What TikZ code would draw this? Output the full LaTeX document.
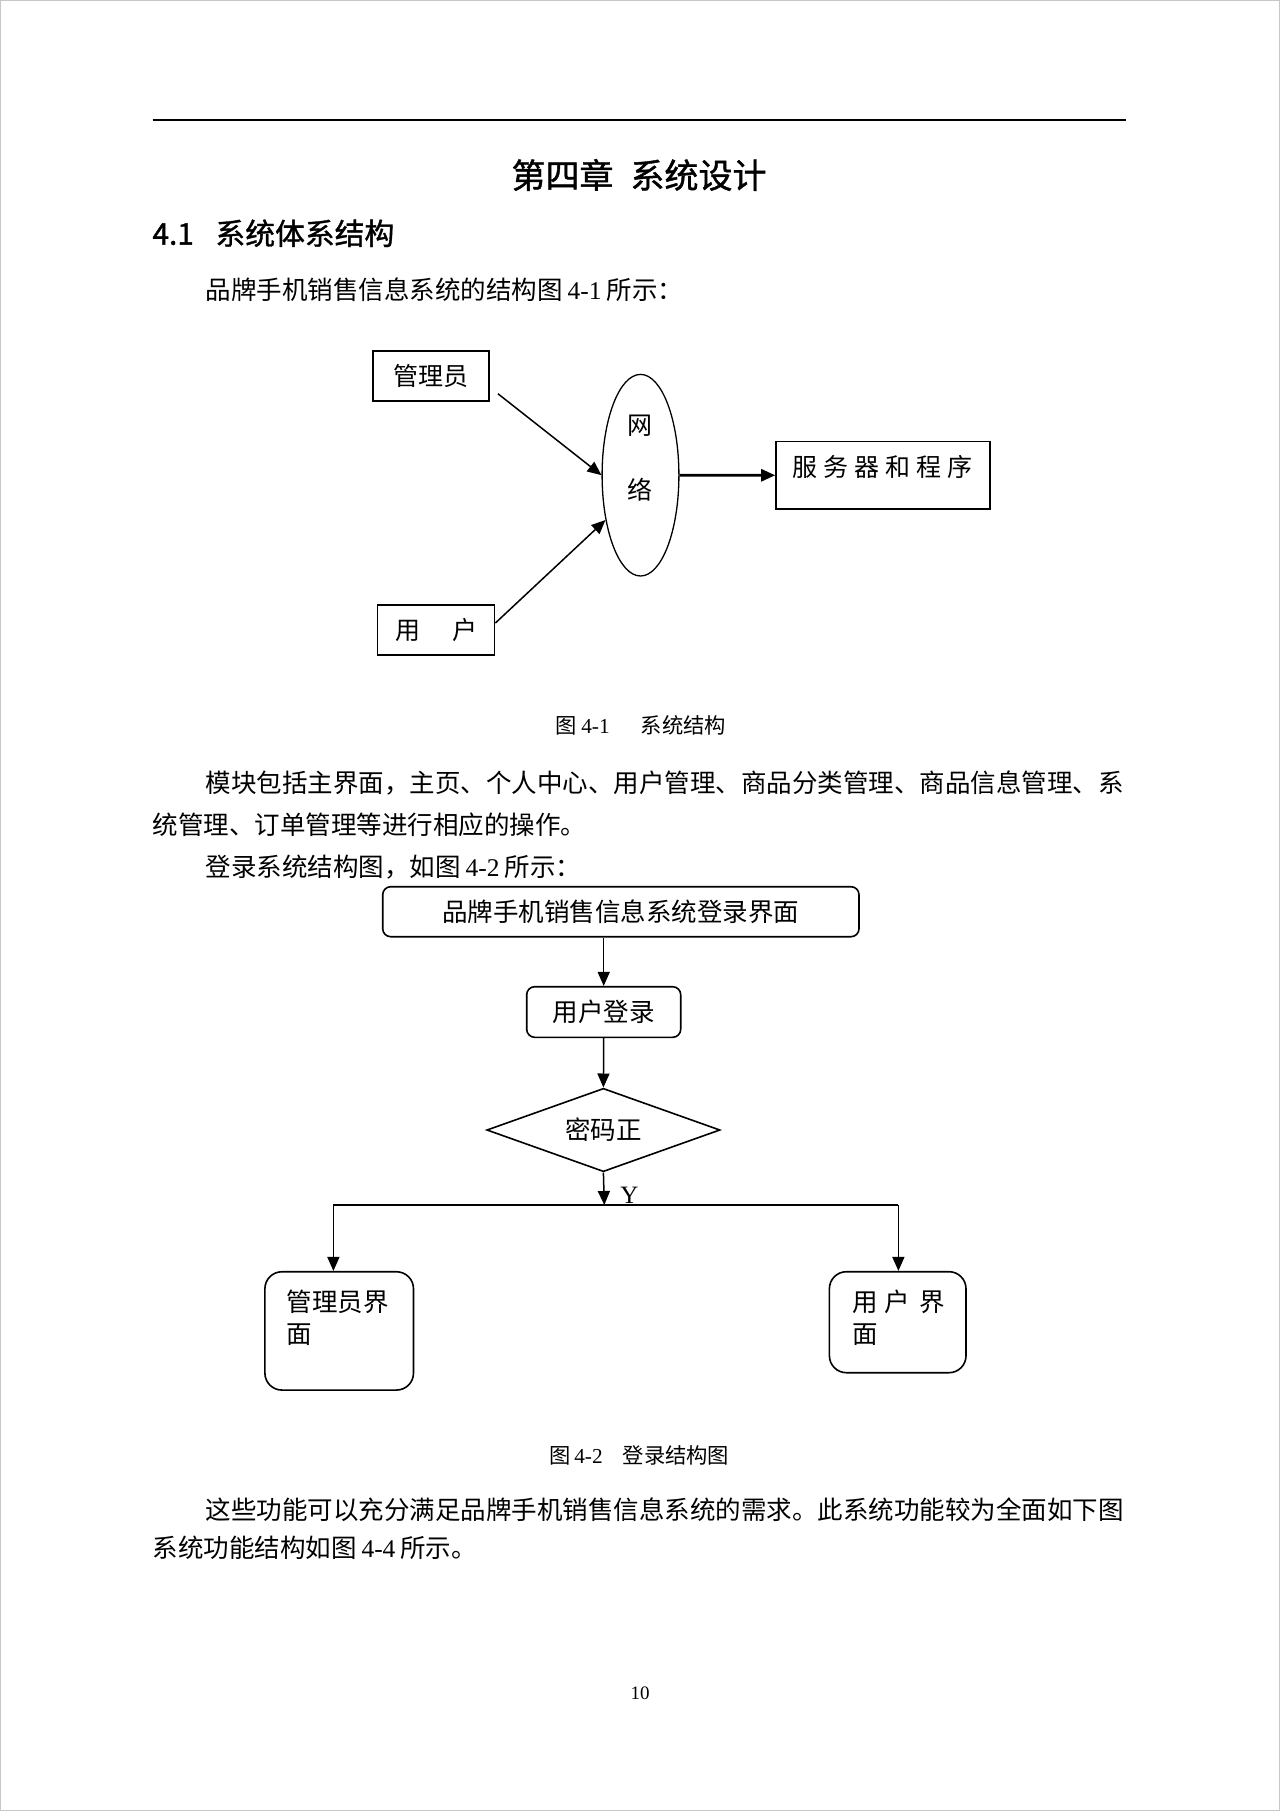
\documentclass[tikz,border=0pt]{standalone}
\usepackage{fontspec}
\setmainfont{Liberation Serif}
\newfontfamily\cjk{Noto Sans CJK SC}
\newfontfamily\cjkh[FakeBold=1.2]{Noto Sans CJK SC}
\newfontfamily\lat{Liberation Serif}
\usetikzlibrary{arrows.meta,shapes.geometric}
\newcommand\fsz[1]{\fontsize{#1pt}{#1pt}\selectfont}
\tikzset{
  txt/.style={inner sep=0pt,outer sep=0pt},
  body/.style={txt,anchor=west,font=\fsz{25.5}\cjk},
  capt/.style={txt,anchor=west,font=\fsz{21.3}\cjk},
  sqbox/.style={draw,line width=1.6pt,inner sep=0pt,font=\fsz{25}\cjk},
  rbox/.style={draw,line width=1.6pt,rounded corners=8pt,inner sep=0pt,font=\fsz{25.5}\cjk},
  conn/.style={line width=1.5pt},
  arr/.style={line width=1.5pt,-{Triangle[length=14pt,width=12pt]}},
}
\begin{document}
\begin{tikzpicture}[x=1pt,y=-1pt]
\useasboundingbox (0,0) rectangle (1280,1811);
\fill[white] (0,0) rectangle (1280,1811);
\draw[black!22,line width=1.4pt] (0.7,0.7) rectangle (1279.3,1810.3);
% header rule
\coordinate (rl) at (152.5,120);
\coordinate (rr) at (1126,120);
\draw[line width=1.3pt] (rl) -- (rr);
% headings and text
\node[txt,anchor=center,font=\fsz{34}\cjkh] (title) at (639,175) {第四章\hspace{17pt}系统设计};
\node[txt,anchor=west,font=\fsz{29.8}\cjkh] (sec) at (152.5,233.3) {\makebox[63pt][l]{4.1}系统体系结构};
\node[body] (p1) at (205.6,289.5) {品牌手机销售信息系统的结构图\hspace{5pt}{\lat 4-1}\hspace{5pt}所示：};
% figure 1
\node[sqbox,minimum width=116pt,minimum height=50pt] (admin) at (431.2,376) {管理员};
\node[sqbox,minimum width=117.2pt,minimum height=50pt] (user) at (436,630) {用\hspace{32pt}户};
\node[draw,ellipse,line width=1.3pt,minimum width=76.8pt,minimum height=201.6pt,inner sep=0pt] (net) at (640.5,475.2) {};
\node[txt,font=\fsz{25}\cjk] (netA) at (639.7,426) {网};
\node[txt,font=\fsz{25}\cjk] (netB) at (639.7,490) {络};
\node[sqbox,minimum width=214pt,minimum height=67.3pt] (server) at (883,475.3) {};
\node[txt,font=\fsz{25}\cjk] (servertext) at (882.4,466.7) {服\hspace{6pt}务\hspace{6pt}器\hspace{6pt}和\hspace{6pt}程\hspace{6pt}序};
\draw[arr] ([shift={(8,-8)}]admin.south east) -- (net.west);
\draw[arr] ([yshift=7pt]user.east) -- (net.232);
\draw[arr,line width=2.6pt] (net.east) -- (server.west);
\node[capt] (cap1) at (555,725) {图\hspace{5pt}{\lat 4-1}\hspace{31pt}系统结构};
% paragraphs
\node[body] (p2a) at (205.6,783) {模块包括主界面，主页、个人中心、用户管理、商品分类管理、商品信息管理、系};
\node[body] (p2b) at (152.5,825) {统管理、订单管理等进行相应的操作。};
\node[body] (p3) at (205.6,867) {登录系统结构图，如图\hspace{5pt}{\lat 4-2}\hspace{5pt}所示：};
% figure 2
\node[rbox,minimum width=476.3pt,minimum height=50pt] (login) at (620.85,911.7) {品牌手机销售信息系统登录界面};
\node[rbox,minimum width=154pt,minimum height=50.6pt] (ulogin) at (603.7,1012) {用户登录};
\node[draw,diamond,aspect=2.8,line width=1.6pt,minimum width=233.3pt,minimum height=83.4pt,inner sep=0pt,font=\fsz{25.5}\cjk] (pwd) at (603.4,1130) {密码正};
\coordinate (split) at (604.3,1205);
\coordinate (splitL) at (333.4,1205);
\coordinate (splitR) at (898.4,1205);
\node[rbox,rounded corners=17pt,minimum width=148.6pt,minimum height=118.3pt] (adminui) at (339.2,1330.9) {};
\node[rbox,rounded corners=17pt,minimum width=136.6pt,minimum height=101pt] (userui) at (897.7,1322.2) {};
\node[txt,anchor=west,font=\fsz{25.5}\cjk] (adminuiA) at (286.5,1301.7) {管理员界};
\node[txt,anchor=west,font=\fsz{25.5}\cjk] (adminuiB) at (286.5,1335) {面};
\node[txt,anchor=west,font=\fsz{25.5}\cjk] (useruiA) at (852.4,1301.7) {用\hspace{7pt}户\hspace{9pt}界};
\node[txt,anchor=west,font=\fsz{25.5}\cjk] (useruiB) at (852.4,1335) {面};
\node[txt,font=\fsz{25}\lat] (ylabel) at (629.5,1195) {Y};
\draw[arr] (login.south -| ulogin.north) -- (ulogin.north);
\draw[arr] (ulogin.south) -- (pwd.north);
\draw[arr] (pwd.south) -- (split);
\draw[conn] (splitL) -- (splitR);
\draw[arr] (splitL) -- (splitL |- adminui.north);
\draw[arr] (splitR) -- (splitR |- userui.north);
\node[capt] (cap2) at (549,1455) {图\hspace{4pt}{\lat 4-2}\hspace{20pt}登录结构图};
% last paragraph
\node[body] (p4a) at (205.6,1510) {这些功能可以充分满足品牌手机销售信息系统的需求。此系统功能较为全面如下图};
\node[body] (p4b) at (152.5,1548) {系统功能结构如图\hspace{5pt}{\lat 4-4}\hspace{5pt}所示。};
\node[txt,font=\fsz{19}\lat] (pgno) at (640,1693) {10};
\end{tikzpicture}
\end{document}
